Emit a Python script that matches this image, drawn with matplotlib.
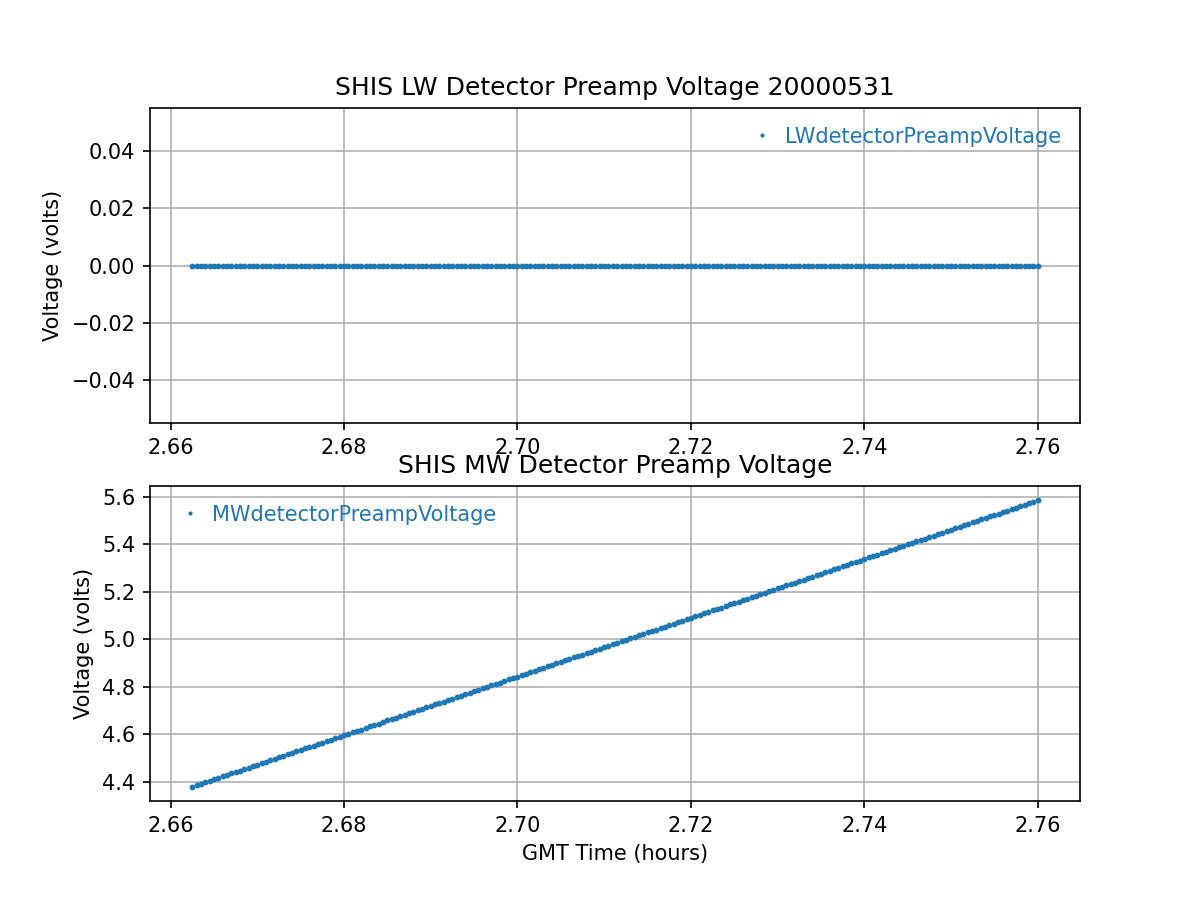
import matplotlib
matplotlib.use("Agg")
import matplotlib.pyplot as plt

# GMT time (hours)
gmt_time = [
    2.6625, 2.6630, 2.6635, 2.6640, 2.6645, 2.6650, 2.6655, 2.6660, 2.6665, 2.6670,
    2.6675, 2.6680, 2.6685, 2.6690, 2.6695, 2.6700, 2.6705, 2.6710, 2.6715, 2.6720,
    2.6725, 2.6730, 2.6735, 2.6740, 2.6745, 2.6750, 2.6755, 2.6760, 2.6765, 2.6770,
    2.6775, 2.6780, 2.6785, 2.6790, 2.6795, 2.6800, 2.6805, 2.6810, 2.6815, 2.6820,
    2.6825, 2.6830, 2.6835, 2.6840, 2.6845, 2.6850, 2.6855, 2.6860, 2.6865, 2.6870,
    2.6875, 2.6880, 2.6885, 2.6890, 2.6895, 2.6900, 2.6905, 2.6910, 2.6915, 2.6920,
    2.6925, 2.6930, 2.6935, 2.6940, 2.6945, 2.6950, 2.6955, 2.6960, 2.6965, 2.6970,
    2.6975, 2.6980, 2.6985, 2.6990, 2.6995, 2.7000, 2.7005, 2.7010, 2.7015, 2.7020,
    2.7025, 2.7030, 2.7035, 2.7040, 2.7045, 2.7050, 2.7055, 2.7060, 2.7065, 2.7070,
    2.7075, 2.7080, 2.7085, 2.7090, 2.7095, 2.7100, 2.7105, 2.7110, 2.7115, 2.7120,
    2.7125, 2.7130, 2.7135, 2.7140, 2.7145, 2.7150, 2.7155, 2.7160, 2.7165, 2.7170,
    2.7175, 2.7180, 2.7185, 2.7190, 2.7195, 2.7200, 2.7205, 2.7210, 2.7215, 2.7220,
    2.7225, 2.7230, 2.7235, 2.7240, 2.7245, 2.7250, 2.7255, 2.7260, 2.7265, 2.7270,
    2.7275, 2.7280, 2.7285, 2.7290, 2.7295, 2.7300, 2.7305, 2.7310, 2.7315, 2.7320,
    2.7325, 2.7330, 2.7335, 2.7340, 2.7345, 2.7350, 2.7355, 2.7360, 2.7365, 2.7370,
    2.7375, 2.7380, 2.7385, 2.7390, 2.7395, 2.7400, 2.7405, 2.7410, 2.7415, 2.7420,
    2.7425, 2.7430, 2.7435, 2.7440, 2.7445, 2.7450, 2.7455, 2.7460, 2.7465, 2.7470,
    2.7475, 2.7480, 2.7485, 2.7490, 2.7495, 2.7500, 2.7505, 2.7510, 2.7515, 2.7520,
    2.7525, 2.7530, 2.7535, 2.7540, 2.7545, 2.7550, 2.7555, 2.7560, 2.7565, 2.7570,
    2.7575, 2.7580, 2.7585, 2.7590, 2.7595, 2.7600,
]

# LW detector preamp voltage (volts) - flat at zero
lw_voltage = [0.0] * len(gmt_time)

# MW detector preamp voltage (volts)
mw_voltage = [
    4.379, 4.385, 4.391, 4.398, 4.404, 4.410, 4.416, 4.422, 4.429, 4.435,
    4.441, 4.447, 4.453, 4.459, 4.466, 4.472, 4.478, 4.484, 4.490, 4.497,
    4.503, 4.509, 4.515, 4.521, 4.528, 4.534, 4.540, 4.546, 4.552, 4.559,
    4.565, 4.571, 4.577, 4.583, 4.589, 4.596, 4.602, 4.608, 4.614, 4.620,
    4.627, 4.633, 4.639, 4.645, 4.651, 4.658, 4.664, 4.670, 4.676, 4.682,
    4.689, 4.695, 4.701, 4.707, 4.713, 4.719, 4.726, 4.732, 4.738, 4.744,
    4.750, 4.757, 4.763, 4.769, 4.775, 4.781, 4.788, 4.794, 4.800, 4.806,
    4.812, 4.818, 4.825, 4.831, 4.837, 4.843, 4.849, 4.856, 4.862, 4.868,
    4.874, 4.880, 4.887, 4.893, 4.899, 4.905, 4.911, 4.918, 4.924, 4.930,
    4.936, 4.942, 4.948, 4.955, 4.961, 4.967, 4.973, 4.979, 4.986, 4.992,
    4.998, 5.004, 5.010, 5.017, 5.023, 5.029, 5.035, 5.041, 5.048, 5.054,
    5.060, 5.066, 5.072, 5.078, 5.085, 5.091, 5.097, 5.103, 5.109, 5.116,
    5.122, 5.128, 5.134, 5.140, 5.147, 5.153, 5.159, 5.165, 5.171, 5.178,
    5.184, 5.190, 5.196, 5.202, 5.208, 5.215, 5.221, 5.227, 5.233, 5.239,
    5.246, 5.252, 5.258, 5.264, 5.270, 5.277, 5.283, 5.289, 5.295, 5.301,
    5.308, 5.314, 5.320, 5.326, 5.332, 5.338, 5.345, 5.351, 5.357, 5.363,
    5.369, 5.376, 5.382, 5.388, 5.394, 5.400, 5.407, 5.413, 5.419, 5.425,
    5.431, 5.437, 5.444, 5.450, 5.456, 5.462, 5.468, 5.475, 5.481, 5.487,
    5.493, 5.499, 5.506, 5.512, 5.518, 5.524, 5.530, 5.537, 5.543, 5.549,
    5.555, 5.561, 5.567, 5.574, 5.580, 5.586,
]

color = "#1f77b4"
fig, (ax1, ax2) = plt.subplots(2, 1, figsize=(8, 6), dpi=150)

leg_kw = dict(frameon=False, labelcolor=color, numpoints=1,
              handlelength=2.0, handletextpad=0.1, markerscale=0.55)

ax1.plot(gmt_time, lw_voltage, ".", ms=3.6, color=color, label="LWdetectorPreampVoltage")
ax1.set_title("SHIS LW Detector Preamp Voltage 20000531")
ax1.set_ylabel("Voltage (volts)")
ax1.grid(True)
ax1.legend(loc="upper right", **leg_kw)

ax2.plot(gmt_time, mw_voltage, ".", ms=3.6, color=color, label="MWdetectorPreampVoltage")
ax2.set_title("SHIS MW Detector Preamp Voltage")
ax2.set_ylabel("Voltage (volts)")
ax2.set_xlabel("GMT Time (hours)")
ax2.grid(True)
ax2.legend(loc="upper left", **leg_kw)

fig.savefig("out.png", dpi=150)
